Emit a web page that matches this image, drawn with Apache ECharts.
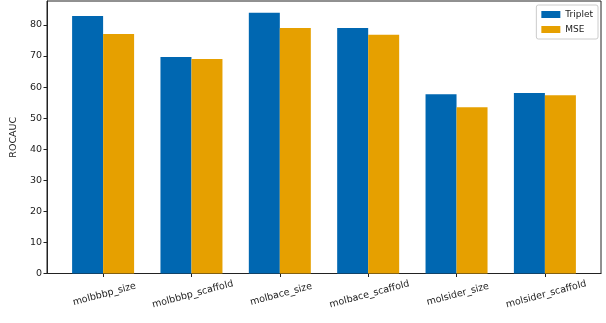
<!DOCTYPE html>
<html><head><meta charset="utf-8">
<script src="https://cdn.jsdelivr.net/npm/echarts@6/dist/echarts.min.js"></script>
<style>html,body{margin:0;padding:0;background:#fff}#c{width:606px;height:323px}</style>
</head><body><div id="c"></div>
<script>
const categories = ['molbbbp_size','molbbbp_scaffold','molbace_size','molbace_scaffold','molsider_size','molsider_scaffold'];
const triplet = [82.9, 69.7, 83.9, 79.0, 57.7, 58.1];
const mse = [77.1, 69.0, 79.0, 76.8, 53.5, 57.4];
const yTicks = [0,10,20,30,40,50,60,70,80];
const seriesNames = ['Triplet','MSE'];
const colors = ['#0067b1','#e6a000'];

const chart = echarts.init(document.getElementById('c'), null, {renderer:'canvas'});
const font = 'DejaVu Sans';
const idx = categories.map((_, i) => i);
chart.setOption({
  animation: false,
  backgroundColor: '#fff',
  color: colors,
  grid: {left: 47, right: 5, top: 1, bottom: 49.5, show: true, borderColor: '#222', borderWidth: 1, containLabel: false},
  legend: {
    right: 8, top: 5, orient: 'vertical', itemWidth: 19, itemHeight: 7, itemGap: 6,
    padding: [5, 5, 5, 5], borderColor: '#ccc', borderWidth: 1, borderRadius: 2,
    textStyle: {fontFamily: font, fontSize: 9, color: '#222'},
    icon: 'rect', data: seriesNames
  },
  xAxis: {
    type: 'value', min: -0.635, max: 5.635,
    axisLine: {show: true, onZero: false, lineStyle: {color: '#222'}},
    axisTick: {show: true, customValues: idx, length: 3.5, lineStyle: {color: '#222'}},
    axisLabel: {customValues: idx, formatter: v => categories[Math.round(v)], rotate: 15, align: 'center', verticalAlign: 'top', margin: 16,
      fontFamily: font, fontSize: 9.5, color: '#222'},
    splitLine: {show: false}
  },
  yAxis: {
    type: 'value', min: 0, max: 87.7,
    name: 'ROCAUC', nameLocation: 'middle', nameGap: 24,
    nameTextStyle: {fontFamily: font, fontSize: 9.5, color: '#222'},
    axisLine: {show: true, onZero: false, lineStyle: {color: '#222'}},
    axisTick: {show: true, customValues: yTicks, length: 3.5, lineStyle: {color: '#222'}},
    axisLabel: {customValues: yTicks, fontFamily: font, fontSize: 9.5, color: '#222', margin: 5},
    splitLine: {show: false}
  },
  series: [
    {name: seriesNames[0], type: 'bar', data: triplet.map((v, i) => [i, v]), barWidth: 31, barGap: '0%', itemStyle: {color: colors[0]}},
    {name: seriesNames[1], type: 'bar', data: mse.map((v, i) => [i, v]), barWidth: 31, barGap: '0%', itemStyle: {color: colors[1]}}
  ]
});
</script></body></html>
